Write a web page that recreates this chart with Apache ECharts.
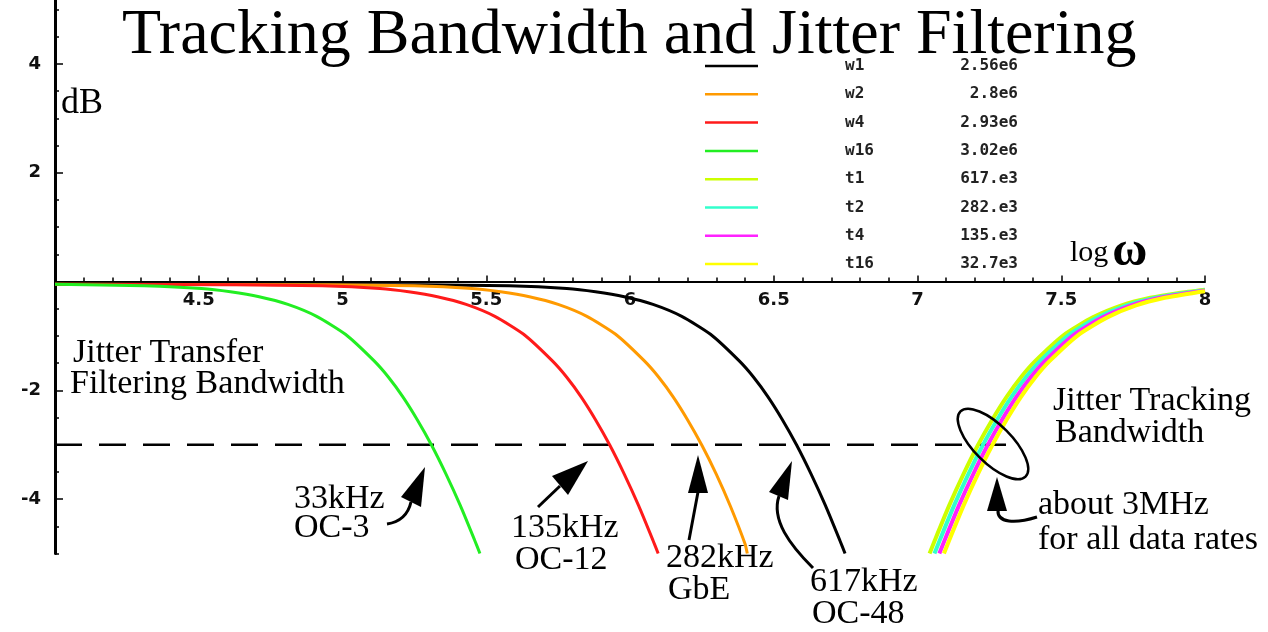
<!DOCTYPE html>
<html>
<head>
<meta charset="utf-8">
<script src="https://cdn.jsdelivr.net/npm/echarts@6/dist/echarts.min.js"></script>
<style>
  html, body { margin: 0; padding: 0; background: #ffffff; }
  #chart { width: 1268px; height: 632px; }
</style>
</head>
<body>
<div id="chart"></div>
<script>
// Gain (dB) versus log10(omega) for the loop responses.
// Jitter transfer (low-pass) curves
const w1 = [[4.00,-0.05],[5.28,-0.06],[5.58,-0.08],[5.78,-0.13],[5.88,-0.19],[5.98,-0.28],[6.08,-0.42],[6.18,-0.64],[6.28,-0.97],[6.38,-1.46],[6.43,-1.76],[6.48,-2.12],[6.53,-2.54],[6.58,-3.01],[6.63,-3.54],[6.68,-4.12],[6.73,-4.76],[6.748,-5.0]];
const w2 = [[4.00,-0.05],[4.95,-0.06],[5.25,-0.08],[5.45,-0.13],[5.55,-0.19],[5.65,-0.28],[5.75,-0.42],[5.85,-0.64],[5.95,-0.97],[6.05,-1.46],[6.10,-1.76],[6.15,-2.12],[6.20,-2.54],[6.25,-3.01],[6.30,-3.54],[6.35,-4.14],[6.40,-4.82],[6.408,-5.0]];
const w4 = [[4.00,-0.05],[4.63,-0.06],[4.93,-0.08],[5.13,-0.13],[5.23,-0.19],[5.33,-0.28],[5.43,-0.42],[5.53,-0.64],[5.63,-0.97],[5.73,-1.46],[5.78,-1.76],[5.83,-2.12],[5.88,-2.54],[5.93,-3.01],[5.98,-3.54],[6.03,-4.12],[6.08,-4.76],[6.098,-5.0]];
const w16 = [[4.00,-0.05],[4.31,-0.08],[4.51,-0.13],[4.61,-0.19],[4.71,-0.28],[4.81,-0.42],[4.91,-0.64],[5.01,-0.97],[5.11,-1.46],[5.16,-1.76],[5.21,-2.12],[5.26,-2.54],[5.31,-3.01],[5.36,-3.54],[5.41,-4.12],[5.46,-4.76],[5.478,-5.0]];
// Jitter tracking (high-pass) curves
const t1 = [[7.042,-5.0],[7.06,-4.76],[7.11,-4.12],[7.16,-3.54],[7.21,-3.01],[7.26,-2.54],[7.31,-2.12],[7.36,-1.76],[7.41,-1.46],[7.51,-0.98],[7.61,-0.66],[7.71,-0.44],[7.81,-0.30],[7.91,-0.21],[8.0,-0.15]];
const t2 = [[7.059,-5.0],[7.077,-4.76],[7.127,-4.12],[7.177,-3.54],[7.227,-3.01],[7.277,-2.54],[7.327,-2.12],[7.377,-1.76],[7.427,-1.46],[7.527,-0.98],[7.627,-0.66],[7.727,-0.44],[7.827,-0.30],[7.927,-0.21],[8.0,-0.16]];
const t4 = [[7.076,-5.0],[7.094,-4.76],[7.144,-4.12],[7.194,-3.54],[7.244,-3.01],[7.294,-2.54],[7.344,-2.12],[7.394,-1.76],[7.444,-1.46],[7.544,-0.98],[7.644,-0.66],[7.744,-0.44],[7.844,-0.30],[7.944,-0.21],[8.0,-0.17]];
const t16 = [[7.092,-5.0],[7.11,-4.76],[7.16,-4.12],[7.21,-3.54],[7.26,-3.01],[7.31,-2.54],[7.36,-2.12],[7.41,-1.76],[7.46,-1.46],[7.56,-0.98],[7.66,-0.66],[7.76,-0.44],[7.86,-0.30],[7.96,-0.21],[8.0,-0.18]];

// Legend entries: names and the bandwidth value shown next to each
const seriesNames = ['w1', 'w2', 'w4', 'w16', 't1', 't2', 't4', 't16'];
const seriesValues = ['2.56e6', '2.8e6', '2.93e6', '3.02e6', '617.e3', '282.e3', '135.e3', '32.7e3'];
const seriesData = [w1, w2, w4, w16, t1, t2, t4, t16];
const seriesColors = ['#000000', '#ff9a00', '#ff1a1a', '#22ee22', '#ccff00', '#33ffcc', '#ff22ff', '#ffff00'];

// -3 dB reference level and its extent in log10(omega)
const halfPowerDb = -3;
const halfPowerSpan = [4, 7.315];

// Axis ranges and ticks
const xRange = [4, 8];
const xStep = 0.5;
const yRange = [-5, 5.5];
const yMinorStep = 0.5;
const yMajorRange = [-4, 4];
const yMajorStep = 2;

const SERIF = '"Liberation Serif", "Times New Roman", serif';
const TICK_FONT = { color: '#111', fontFamily: '"DejaVu Sans", sans-serif', fontWeight: 'bold', fontSize: 18 };
const valueOf = {};
seriesNames.forEach((n, i) => { valueOf[n] = seriesValues[i]; });

// text placed by baseline (canvas 'middle' sits ~0.34em above the baseline)
function label(str, x, baseline, size) {
  return {
    type: 'text', x: x, y: baseline - 0.34 * size, z: 100,
    style: { text: str, fontSize: size, fontFamily: SERIF, fill: '#000',
             align: 'left', verticalAlign: 'middle', textAlign: 'left', textVerticalAlign: 'middle' }
  };
}
function head(points) {
  return { type: 'polygon', z: 100, shape: { points: points }, style: { fill: '#000' } };
}
function curve(x1, y1, cx1, cy1, cx2, cy2, x2, y2) {
  return { type: 'bezierCurve', z: 100,
    shape: { x1: x1, y1: y1, cpx1: cx1, cpy1: cy1, cpx2: cx2, cpy2: cy2, x2: x2, y2: y2 },
    style: { stroke: '#000', lineWidth: 3, fill: null } };
}
function stem(x1, y1, x2, y2) {
  return { type: 'line', z: 100, shape: { x1: x1, y1: y1, x2: x2, y2: y2 },
    style: { stroke: '#000', lineWidth: 3 } };
}

const chart = echarts.init(document.getElementById('chart'), null, { renderer: 'canvas' });

const series = seriesNames.map((name, i) => ({
  name: name,
  type: 'line',
  xAxisIndex: 0, yAxisIndex: 0,
  data: seriesData[i],
  symbol: 'none',
  smooth: 0.2,
  lineStyle: { color: seriesColors[i], width: i < 4 ? 3 : 4 },
  itemStyle: { color: seriesColors[i] },
  z: 2 + i,
  silent: true
}));
series.push({
  name: 'half-power',
  type: 'line',
  xAxisIndex: 0, yAxisIndex: 0,
  data: [[halfPowerSpan[0], halfPowerDb], [halfPowerSpan[1], halfPowerDb]],
  symbol: 'none',
  lineStyle: { color: '#000', width: 2.5, type: [27, 17] },
  z: 1,
  silent: true
});

chart.setOption({
  animation: false,
  backgroundColor: '#ffffff',
  title: {
    text: 'Tracking Bandwidth and Jitter Filtering',
    left: 122, top: 4, padding: 0,
    textStyle: { fontFamily: SERIF, fontSize: 64, fontWeight: 'normal', color: '#000' }
  },
  legend: {
    data: seriesNames,
    orient: 'vertical',
    left: 705, top: 57,
    padding: 0,
    icon: 'rect',
    itemWidth: 53, itemHeight: 2.5, itemGap: 10.3,
    selectedMode: false,
    formatter: name => '{n|' + name + '}{v|' + valueOf[name] + '}',
    textStyle: {
      padding: [0, 0, 0, 82],
      lineHeight: 18,
      rich: {
        n: { width: 60, fontFamily: '"DejaVu Sans Mono", monospace', fontWeight: 'bold', fontSize: 16, color: '#222', lineHeight: 18 },
        v: { width: 113, align: 'right', fontFamily: '"DejaVu Sans Mono", monospace', fontWeight: 'bold', fontSize: 16, color: '#222', lineHeight: 18 }
      }
    }
  },
  grid: [
    // plotting area; its top lies above the page so the dB axis runs to the top edge
    { left: 55, right: 63, top: -17.7, bottom: 78.5, outerBoundsMode: 'none' },
    // frame for the labelled even-dB ticks
    { left: 55, right: 63, top: 63.9, bottom: 132.9, outerBoundsMode: 'none' },
    // frame whose lower edge is the 0 dB line, carrying the log(omega) axis
    { left: 55, right: 63, top: 100, bottom: 350.5, outerBoundsMode: 'none' }
  ],
  xAxis: [
    { type: 'value', gridIndex: 0, min: xRange[0], max: xRange[1], show: false },
    { type: 'value', gridIndex: 1, min: xRange[0], max: xRange[1], show: false },
    {
      type: 'value', gridIndex: 2, position: 'bottom',
      min: xRange[0], max: xRange[1], interval: xStep,
      axisLine: { onZero: false, lineStyle: { color: '#000', width: 2 } },
      axisTick: { inside: true, length: 6, lineStyle: { color: '#000', width: 1.5 } },
      minorTick: { show: true, splitNumber: 5, length: 4, lineStyle: { color: '#000', width: 1.5 } },
      splitLine: { show: false },
      axisLabel: Object.assign({ margin: 10, formatter: v => (v === xRange[0] ? '' : String(v)) }, TICK_FONT)
    }
  ],
  yAxis: [
    {
      type: 'value', gridIndex: 0,
      min: yRange[0], max: yRange[1], interval: yMinorStep,
      axisLine: { onZero: false, lineStyle: { color: '#000', width: 3 } },
      axisTick: { inside: true, length: 4, lineStyle: { color: '#000', width: 1.5 } },
      splitLine: { show: false },
      axisLabel: { show: false }
    },
    {
      type: 'value', gridIndex: 1,
      min: yMajorRange[0], max: yMajorRange[1], interval: yMajorStep,
      axisLine: { show: false, onZero: false },
      axisTick: { show: true, inside: true, length: 8, lineStyle: { color: '#000', width: 1.5 } },
      splitLine: { show: false },
      axisLabel: Object.assign({ margin: 14, formatter: v => (v === 0 ? '' : String(v)) }, TICK_FONT)
    },
    { type: 'value', gridIndex: 2, min: 0, max: 1, show: false }
  ],
  series: series,
  graphic: [
    label('dB', 61, 116, 36),
    {
      type: 'text', x: 1070, y: 263 - 0.34 * 30, z: 100,
      style: {
        text: '{a|log}{b|ω}', verticalAlign: 'middle', textVerticalAlign: 'middle',
        rich: {
          a: { fontSize: 30, fontFamily: SERIF, fill: '#000', color: '#000' },
          b: { fontSize: 48, fontFamily: SERIF, fontWeight: 'bold', fill: '#000', color: '#000', padding: [0, 0, 0, 4] }
        }
      }
    },
    label('Jitter Transfer', 73, 365, 34),
    label('Filtering Bandwidth', 70, 396, 34),
    label('Jitter Tracking', 1053, 413, 34),
    label('Bandwidth', 1055, 445, 34),
    label('about 3MHz', 1038, 517, 34),
    label('for all data rates', 1038, 552, 34),
    label('33kHz', 294, 511, 34),
    label('OC-3', 294, 540, 34),
    label('135kHz', 511, 540, 34),
    label('OC-12', 515, 572, 34),
    label('282kHz', 666, 570, 34),
    label('GbE', 668, 602, 34),
    label('617kHz', 810, 594, 34),
    label('OC-48', 812, 626, 34),
    // arrows pointing at the -3 dB crossings
    head([[425, 467], [401, 497], [421, 507]]),
    curve(411, 502, 408, 515, 400, 522, 387, 524),
    head([[588, 461], [552, 476], [568, 495]]),
    stem(560, 486, 538, 507),
    head([[698, 455], [688, 493], [708, 493]]),
    stem(698, 492, 689, 540),
    head([[792, 461], [769, 492], [788, 500]]),
    curve(779, 496, 771, 520, 790, 545, 813, 568),
    head([[997, 477], [987, 511], [1007, 511]]),
    curve(998, 510, 997, 523, 1015, 524, 1037, 517),
    {
      type: 'ellipse', x: 993, y: 444, rotation: -Math.PI / 4, z: 100,
      shape: { cx: 0, cy: 0, rx: 46, ry: 19 },
      style: { fill: null, stroke: '#000', lineWidth: 2.5 }
    }
  ]
});
</script>
</body>
</html>
